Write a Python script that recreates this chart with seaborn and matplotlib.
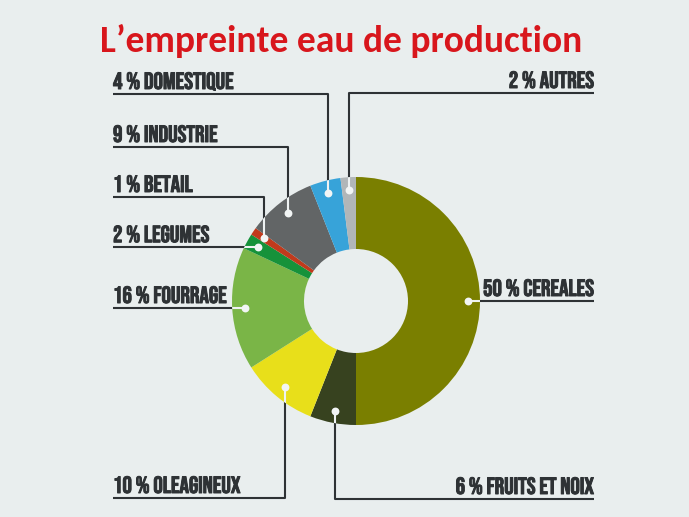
import numpy as np
import matplotlib.pyplot as plt
import matplotlib.patches as mpatches
import matplotlib.patheffects as pe
import seaborn as sns

categories = ['CEREALES', 'FRUITS ET NOIX', 'OLEAGINEUX', 'FOURRAGE', 'LEGUMES',
              'BETAIL', 'INDUSTRIE', 'DOMESTIQUE', 'AUTRES']
shares = [50, 6, 10, 16, 2, 1, 9, 4, 2]
colors = ['#7a7f00', '#37421f', '#e8df1a', '#7ab547', '#16923a',
          '#c13a1c', '#626566', '#37a3d9', '#b1b6b8']

title = "L\u2019empreinte eau de production"

sns.set_theme(style='white')
plt.rcParams['font.family'] = ['Bebas Neue', 'Oswald', 'DejaVu Sans']

W, H = 689, 517
bg = '#e9eeee'
ink = '#2e3235'

# layout (pixel space, y measured from the top of the picture)
cx, cy = 356, H - 301
R, ring = 124, 72
dot_r = 0.9 * R
# side, underline y (None = straight line at dot height)
layout = {
    'DOMESTIQUE': ('left', 94),
    'INDUSTRIE': ('left', 147),
    'BETAIL': ('left', 197),
    'LEGUMES': ('left', None),
    'FOURRAGE': ('left', None),
    'OLEAGINEUX': ('left', 498),
    'AUTRES': ('right', 93),
    'CEREALES': ('right', None),
    'FRUITS ET NOIX': ('right', 499),
}
x_left, x_right = 113, 594

fig = plt.figure(figsize=(W / 100, H / 100), dpi=100, facecolor=bg)
ax = fig.add_axes([0, 0, 1, 1])
ax.set_facecolor(bg)

wedges, _ = ax.pie(shares, colors=colors, startangle=90, counterclock=False,
                   radius=R, center=(cx, cy),
                   wedgeprops=dict(width=ring, linewidth=0, zorder=2))
ax.set_xlim(0, W)
ax.set_ylim(0, H)
ax.set_aspect('equal')
ax.axis('off')

clip = mpatches.Circle((cx, cy), R, transform=ax.transData)
bold = [pe.withStroke(linewidth=0.7, foreground=ink)]

for name, share, w in zip(categories, shares, wedges):
    side, uy = layout[name]
    mid = np.deg2rad((w.theta1 + w.theta2) / 2)
    dx, dy = cx + dot_r * np.cos(mid), cy + dot_r * np.sin(mid)
    ly = dy if uy is None else H - uy
    x0 = x_left if side == 'left' else x_right
    xs = [x0, dx, dx]
    ys = [ly, ly, dy]
    ax.plot(xs, ys, color=ink, lw=1.5, zorder=1, solid_capstyle='butt')
    light, = ax.plot(xs, ys, color='#eef2f2', lw=1.5, zorder=3)
    light.set_clip_path(clip)
    ax.scatter([dx], [dy], s=32, color='#f2f5f5', zorder=4, linewidths=0)
    ax.text(x0, ly + 5, f'{share} % {name}', ha=side, va='baseline',
            fontsize=17, color=ink, zorder=5, path_effects=bold)

ax.text(341, H - 52, title, ha='center', va='baseline', fontsize=27,
        fontweight='bold', color='#d8161c', family=['Carlito', 'Lato', 'DejaVu Sans'])

fig.savefig('out.png', dpi=100, facecolor=bg)
